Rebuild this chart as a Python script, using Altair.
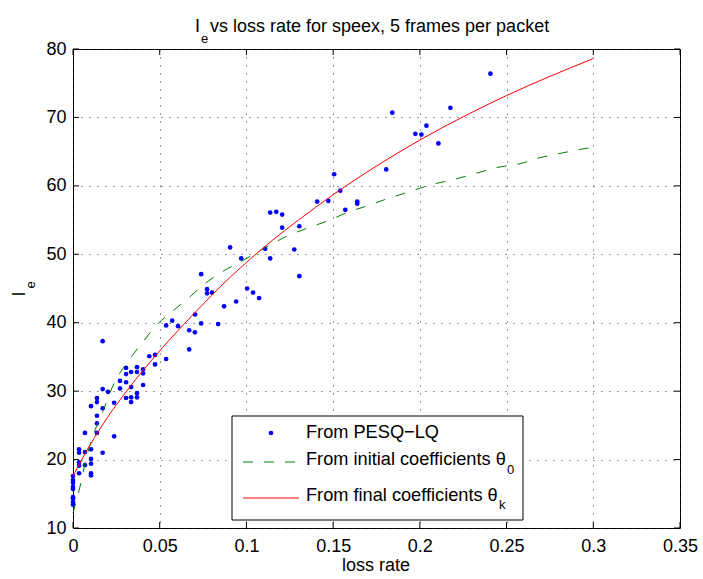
import altair as alt
import pandas as pd

# ---- data ----
loss_rate = [
    0, 0, 0, 0, 0, 0, 0, 0, 0,
    0.0035, 0.0035, 0.0035, 0.0035, 0.0035,
    0.0069, 0.0069, 0.0069,
    0.0104, 0.0104, 0.0104, 0.0104, 0.0104, 0.0104,
    0.0138, 0.0138, 0.0138, 0.0138, 0.0138,
    0.0171, 0.0171, 0.0171, 0.0171,
    0.0202,
    0.0237, 0.0237,
    0.0271, 0.0271,
    0.0306, 0.0306, 0.0306, 0.0306,
    0.0335, 0.0335, 0.0335, 0.0335,
    0.0369, 0.0369, 0.0369, 0.0369,
    0.0404, 0.0404, 0.0404,
    0.0440,
    0.0473, 0.0473,
    0.0537, 0.0537,
    0.0572, 0.0606, 0.0670, 0.0670, 0.0703, 0.0704, 0.0739,
    0.0739, 0.0773, 0.0773, 0.0802,
    0.0837, 0.0871, 0.0906, 0.0941, 0.0970, 0.1004, 0.1038, 0.1073,
    0.1108, 0.1137, 0.1137, 0.1172, 0.1206, 0.1206, 0.1276, 0.1305, 0.1305,
    0.1408, 0.1472, 0.1506, 0.1541, 0.1570, 0.1639, 0.1639,
    0.1806, 0.1841, 0.1974, 0.2009, 0.2038, 0.2107, 0.2176, 0.2407,
]
ie_pesq = [
    17.6, 17.0, 16.6, 16.0, 15.7, 14.5, 14.3, 13.8, 13.4,
    21.5, 21.0, 19.6, 19.1, 18.0,
    23.9, 21.1, 19.2,
    27.8, 21.5, 20.1, 19.4, 18.0, 17.7,
    29.0, 28.4, 26.4, 25.3, 23.9,
    37.3, 30.3, 27.5, 21.0,
    29.9,
    28.3, 23.4,
    31.5, 30.4,
    33.4, 32.5, 31.3, 29.0,
    32.8, 30.6, 29.1, 28.4,
    33.5, 32.8, 29.7, 29.1,
    33.2, 32.6, 30.9,
    35.1,
    35.3, 33.9,
    39.6, 34.7,
    40.3, 39.5, 38.9, 36.1, 38.6, 41.2, 39.9,
    47.1, 44.9, 44.3, 44.4,
    39.8, 42.4, 51.0, 43.1, 49.4, 45.0, 44.4, 43.6,
    50.8, 49.4, 56.1, 56.2, 55.8, 53.9, 50.7, 54.1, 46.8,
    57.7, 57.8, 61.7, 59.3, 56.5, 57.7, 57.4,
    62.4, 70.7, 67.6, 67.5, 68.8, 66.2, 71.4, 76.4,
]

initial_x = [0, 0.004, 0.007, 0.011, 0.017, 0.024, 0.031, 0.040, 0.048, 0.058,
             0.067, 0.077, 0.087, 0.098, 0.111, 0.123, 0.135, 0.147, 0.158, 0.170,
             0.181, 0.191, 0.207, 0.219, 0.232, 0.245, 0.257, 0.269, 0.282, 0.294, 0.3]
initial_y = [12.2, 16.0, 19.5, 23.1, 26.9, 31.3, 34.1, 37.1, 39.6, 41.8,
             43.7, 45.9, 47.6, 49.1, 51.0, 52.6, 53.8, 54.9, 56.1, 57.1,
             58.1, 58.9, 60.2, 60.9, 61.8, 62.7, 63.2, 64.1, 64.8, 65.4, 65.6]

final_x = [0, 0.01, 0.02, 0.03, 0.04, 0.05, 0.06, 0.07, 0.08, 0.09, 0.1,
           0.11, 0.13, 0.15, 0.175, 0.2, 0.225, 0.25, 0.275, 0.3]
final_y = [17.6, 22.2, 26.2, 29.7, 32.9, 35.9, 38.7, 41.4, 44.0, 46.5, 48.8,
           51.0, 55.0, 58.7, 62.9, 66.7, 70.1, 73.2, 76.0, 78.6]

x_ticks = [0, 0.05, 0.1, 0.15, 0.2, 0.25, 0.3, 0.35]
y_ticks = [10, 20, 30, 40, 50, 60, 70, 80]

legend_labels = ["From PESQ\u2212LQ", "From initial coefficients \u03b8", "From final coefficients \u03b8"]
legend_subs = ["0", "k"]

title_main = "vs loss rate for speex, 5 frames per packet"
x_title = "loss rate"

# ---- layout ----
W, H = 607, 479
PL, PT = 73, 49
FONT = "Liberation Sans"
FS = 18

xs = alt.Scale(domain=[0, 0.35], nice=False, zero=False)
ys = alt.Scale(domain=[10, 80], nice=False, zero=False)

xaxis = alt.Axis(values=x_ticks, format="~g", title=None, grid=True, gridColor="#333333",
                 gridDash=[1, 7], gridWidth=1, domain=False, ticks=False,
                 labelFont=FONT, labelFontSize=FS, labelColor="black", labelPadding=9,
                 labelFlush=False, labelOverlap=False)
yaxis = alt.Axis(values=y_ticks, title=None, grid=True, gridColor="#333333",
                 gridDash=[1, 7], gridWidth=1, domain=False, ticks=False,
                 labelFont=FONT, labelFontSize=FS, labelColor="black", labelPadding=7,
                 labelFlush=False, labelOverlap=False)


def X(field):
    return alt.X(field, type="quantitative", scale=xs, axis=xaxis)


def Y(field):
    return alt.Y(field, type="quantitative", scale=ys, axis=yaxis)


pts = pd.DataFrame({"loss": loss_rate, "ie": ie_pesq})
ini = pd.DataFrame({"x": initial_x, "y": initial_y})
fin = pd.DataFrame({"x": final_x, "y": final_y})
xt = pd.DataFrame({"v": x_ticks})
yt = pd.DataFrame({"v": y_ticks})

points = alt.Chart(pts).mark_circle(size=22, color="#0000ff", opacity=1).encode(x=X("loss"), y=Y("ie"))
line_ini = alt.Chart(ini).mark_line(color="#008000", strokeWidth=1, strokeDash=[10, 11],
                                    interpolate="monotone").encode(x=X("x"), y=Y("y"), order="x:Q")
line_fin = alt.Chart(fin).mark_line(color="#ff0000", strokeWidth=1,
                                    interpolate="monotone").encode(x=X("x"), y=Y("y"), order="x:Q")

tk = dict(color="black", strokeWidth=1)
tick_b = alt.Chart(xt).mark_rule(**tk).encode(x=X("v"), y=alt.value(H), y2=alt.value(H - 6))
tick_t = alt.Chart(xt).mark_rule(**tk).encode(x=X("v"), y=alt.value(0), y2=alt.value(6))
tick_l = alt.Chart(yt).mark_rule(**tk).encode(y=Y("v"), x=alt.value(0), x2=alt.value(6))
tick_r = alt.Chart(yt).mark_rule(**tk).encode(y=Y("v"), x=alt.value(W - 6), x2=alt.value(W))


def txt(s, x, y, size=FS, align="left", angle=0):
    kw = dict(font=FONT, fontSize=size, color="black", align=align, baseline="middle")
    enc = dict(text="t:N", x=alt.value(x), y=alt.value(y))
    if angle:
        kw["angle"] = angle
        enc["angle"] = alt.value(angle)
    return alt.Chart(pd.DataFrame({"t": [s]})).mark_text(**kw).encode(**enc)


one = pd.DataFrame({"a": [1]})
# legend
leg_box = alt.Chart(one).mark_rect(fill="white", stroke="black", strokeWidth=1).encode(
    x=alt.value(232 - PL), x2=alt.value(523 - PL), y=alt.value(416 - PT), y2=alt.value(520 - PT))
leg_pt = alt.Chart(one).mark_circle(size=22, color="#0000ff", opacity=1).encode(
    x=alt.value(271 - PL), y=alt.value(433 - PT))
leg_g = alt.Chart(one).mark_rule(color="#008000", strokeWidth=1, strokeDash=[10, 11]).encode(
    x=alt.value(243 - PL), x2=alt.value(299 - PL), y=alt.value(462 - PT))
leg_r = alt.Chart(one).mark_rule(color="#ff0000", strokeWidth=1).encode(
    x=alt.value(243 - PL), x2=alt.value(299 - PL), y=alt.value(498 - PT))
LFS = 18.2
leg_t1 = txt(legend_labels[0], 306 - PL, 433 - PT, LFS)
leg_t2 = txt(legend_labels[1], 306 - PL, 460 - PT, LFS)
leg_s2 = txt(legend_subs[0], 507 - PL, 470 - PT, 13)
leg_t3 = txt(legend_labels[2], 306 - PL, 496 - PT, LFS)
leg_s3 = txt(legend_subs[1], 499 - PL, 505 - PT, 13)

# titles
t_I = txt("I", 195 - PL, 27 - PT, FS)
t_e = txt("e", 201 - PL, 39 - PT, 13)
t_main = txt(title_main, 210 - PL, 27 - PT, FS)
xl = txt(x_title, 376 - PL, 566 - PT, FS, align="center")
yl_I = txt("I", 20 - PL, 294 - PT, FS, align="center", angle=270)
yl_e = txt("e", 31 - PL, 285 - PT, 13, align="center", angle=270)

chart = alt.layer(
    points, line_ini, line_fin, tick_b, tick_t, tick_l, tick_r,
    leg_box, leg_pt, leg_g, leg_r, leg_t1, leg_t2, leg_s2, leg_t3, leg_s3,
    t_I, t_e, t_main, xl, yl_I, yl_e,
).properties(
    width=W, height=H,
    autosize=alt.AutoSizeParams(type="none"),
    padding={"left": PL, "top": PT, "right": 703 - PL - W, "bottom": 579 - PT - H},
    background="white",
).configure_view(stroke="black", strokeWidth=1)

chart.save("out.html", embed_options={"renderer": "svg", "actions": False})
